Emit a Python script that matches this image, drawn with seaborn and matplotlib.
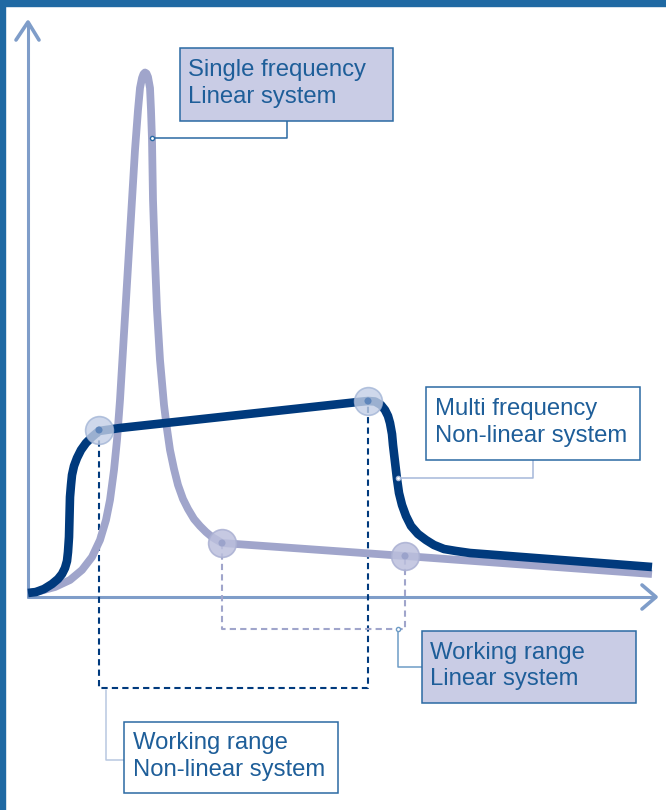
import seaborn as sns
import matplotlib.pyplot as plt
import pandas as pd
from matplotlib.patches import Rectangle

# Curve data (arbitrary response units, origin at the axes corner)
single_x = [0, 12, 27, 42, 54, 64, 72, 78, 82, 86, 89, 92, 95, 98, 101, 104, 107, 110,
            112, 114, 115.5, 117, 118.5, 120, 122, 123, 124, 125, 127, 129, 132, 136, 139,
            142, 146, 150, 155, 160, 166, 172, 178, 184, 194, 377, 624]
single_y = [4, 6, 10, 17, 27, 40, 57, 77, 97, 127, 157, 197, 247, 297, 347, 397, 447, 487,
            509, 519, 523, 524.5, 523.5, 520, 509, 487, 457, 397, 337, 287, 237, 192, 168,
            147, 128, 112, 98, 88, 78, 71, 65, 60, 54, 41, 23]

multi_x = [0, 8, 16, 24, 30, 34, 37, 39, 40, 41, 41.5, 42, 43, 44, 46, 49, 53, 58, 64, 71,
           92, 330, 340, 347, 353, 357, 360, 362, 364, 365, 367, 369, 371, 374, 378, 383,
           390, 398, 406, 416, 428, 442, 624]
multi_y = [4, 5, 8, 13, 18, 23, 29, 36, 45, 60, 80, 100, 112, 122, 131, 139, 147, 154, 160,
           166, 169, 195, 196, 195.5, 192, 187, 181, 174, 163, 152, 135, 118, 104, 92, 81,
           71, 63, 57, 52, 48, 46, 44, 30]

# Working range points
nonlinear_x = [71, 340]
nonlinear_y = [167, 196]
linear_x = [194, 377]
linear_y = [54, 41]

nonlinear_floor = -91
linear_floor = -32

labels = ["Single frequency\nLinear system",
          "Multi frequency\nNon-linear system",
          "Working range\nLinear system",
          "Working range\nNon-linear system"]

# Colours
light = "#a0a5cb"
dark = "#003a7d"
axis_col = "#7f9dc9"
box_edge = "#2b6aa3"
text_col = "#1e5e99"
lavender = "#c9cce5"

sns.set_style("white")
plt.rcParams['font.family'] = ['Liberation Sans', 'DejaVu Sans']

fig = plt.figure(figsize=(6.66, 8.10), dpi=100)
ax = fig.add_axes([0, 0, 1, 1])

# frame border
fig.patches.append(Rectangle((0, 0), 5 / 666, 1, transform=fig.transFigure,
                             color="#1f69a3", zorder=0))
fig.patches.append(Rectangle((0, 1 - 6 / 810), 1, 6 / 810, transform=fig.transFigure,
                             color="#1f69a3", zorder=0))

# axes with chevron arrows
ax.plot([0, 0], [0, 574], color=axis_col, lw=2.2, zorder=1)
ax.plot([-12, 0, 11], [557, 575, 557], color=axis_col, lw=2.6, zorder=1)
ax.plot([0, 627], [0, 0], color=axis_col, lw=2.2, zorder=1)
ax.plot([614, 628, 614], [12, 0, -12], color=axis_col, lw=2.6, zorder=1)

# dashed working ranges
ax.plot([nonlinear_x[0], nonlinear_x[0], nonlinear_x[1], nonlinear_x[1]],
        [nonlinear_y[0], nonlinear_floor, nonlinear_floor, nonlinear_y[1]],
        color=dark, lw=1.5, ls=(0, (3, 2)), zorder=2)
ax.plot([linear_x[0], linear_x[0], linear_x[1], linear_x[1]],
        [linear_y[0], linear_floor, linear_floor, linear_y[1]],
        color=light, lw=1.5, ls=(0, (3, 2)), zorder=2)

# curves
df_single = pd.DataFrame({"x": single_x, "y": single_y})
df_multi = pd.DataFrame({"x": multi_x, "y": multi_y})
sns.lineplot(data=df_single, x="x", y="y", sort=False, color=light, lw=5.6,
             solid_joinstyle="round", solid_capstyle="butt", ax=ax, zorder=3)
sns.lineplot(data=df_multi, x="x", y="y", sort=False, color=dark, lw=6.2,
             solid_joinstyle="round", solid_capstyle="butt", ax=ax, zorder=4)

# circles at the working range ends
sns.scatterplot(x=nonlinear_x, y=nonlinear_y, s=400, color="#c3cfe6", alpha=0.8,
                edgecolor="#a3b5d6", linewidth=1.2, ax=ax, zorder=5)
sns.scatterplot(x=nonlinear_x, y=nonlinear_y, s=26, color="#5f86bb",
                edgecolor="none", ax=ax, zorder=6)
sns.scatterplot(x=linear_x, y=linear_y, s=400, color="#bcc0dd", alpha=0.85,
                edgecolor="#aab0d2", linewidth=1.2, ax=ax, zorder=5)
sns.scatterplot(x=linear_x, y=linear_y, s=26, color="#9ba3cb",
                edgecolor="none", ax=ax, zorder=6)

# label boxes: (x0, x1, y0, y1, fill, text x)
boxes = [(152, 365, 476, 549, lavender, 160),
         (398, 612, 137, 210, "white", 407),
         (394, 608, -106, -34, lavender, 402),
         (96, 310, -196, -125, "white", 105)]
for (x0, x1, y0, y1, fill, tx), lab in zip(boxes, labels):
    ax.add_patch(Rectangle((x0, y0), x1 - x0, y1 - y0, facecolor=fill,
                           edgecolor=box_edge, lw=1.1, zorder=7))
    ax.text(tx, (y0 + y1) / 2 + 1, lab, ha="left", va="center", color=text_col,
            fontsize=17.2, linespacing=1.24, zorder=8)

# connectors (last flag: draw small end dot)
connectors = [([259, 259, 124], [476, 459, 459], box_edge, True),
              ([505, 505, 370], [137, 119, 119], "#a5b8da", True),
              ([394, 370, 370], [-70, -70, -32], "#6e9cc6", True),
              ([78, 78, 96], [-93, -163, -163], "#b8c8e0", False)]
for cx, cy, col, dot in connectors:
    ax.plot(cx, cy, color=col, lw=1.1, zorder=6)
    if dot:
        ax.plot(cx[-1], cy[-1], "o", ms=3, mfc="white", mec=col, mew=1, zorder=9)

ax.set_xlim(-28, 638)
ax.set_ylim(-213, 597)
ax.axis("off")

plt.savefig("out.png", dpi=100)
plt.close()
